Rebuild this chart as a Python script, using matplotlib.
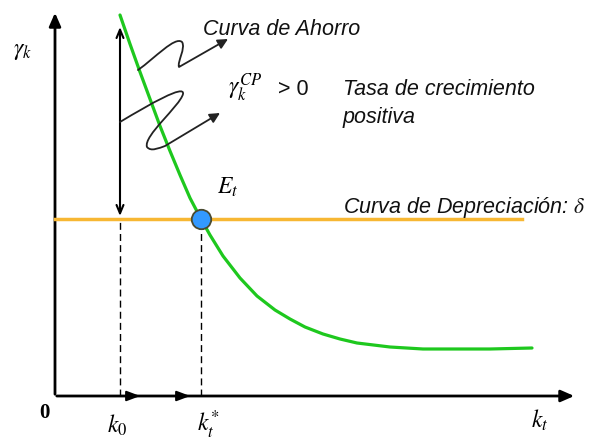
import matplotlib
matplotlib.use("Agg")
import matplotlib.pyplot as plt
from matplotlib.path import Path
from matplotlib.patches import FancyArrowPatch

plt.rcParams['mathtext.fontset'] = 'stix'

# savings curve (capital k, growth gamma) in diagram units
k_saving = [65, 75, 85, 95, 105, 115, 125, 135, 146, 155, 168, 185, 202, 220, 235,
            250, 268, 285, 302, 335, 368, 402, 435, 477]
g_saving = [381, 352, 324, 297, 270, 245, 221, 198, 177, 161, 140, 118, 100, 86, 77,
            69, 62, 57, 53, 49, 47, 47, 47, 48]

# depreciation line
delta = 177
k_delta_end = 467

# key capital levels
k0 = 65
k_star = 146
gamma_k0 = 369   # top of the growth-rate double arrow

# axis extents
x_max = 522
y_max = 386

fig = plt.figure(figsize=(6.03, 4.42), dpi=100)
ax = fig.add_axes([0, 0, 1, 1])
ax.set_xlim(-55, 548)
ax.set_ylim(-46, 396)
ax.axis('off')

# axes with arrows
ax.annotate('', xy=(0, y_max), xytext=(0, -1),
            arrowprops=dict(arrowstyle='-|>,head_length=0.8,head_width=0.35', color='black', lw=2))
ax.annotate('', xy=(x_max, 0), xytext=(-1, 0),
            arrowprops=dict(arrowstyle='-|>,head_length=0.8,head_width=0.35', color='black', lw=2))
# arrows along the k axis (k0 -> k*)
for xa in [88, 138]:
    ax.annotate('', xy=(xa, 0), xytext=(xa - 12, 0),
                arrowprops=dict(arrowstyle='-|>,head_length=0.8,head_width=0.3', color='black', lw=1.5))

# dashed guides
ax.plot([k0, k0], [0, delta], color='black', lw=1, ls=(0, (5, 3)))
ax.plot([k_star, k_star], [0, delta], color='black', lw=1, ls=(0, (5, 3)))

# depreciation line
ax.plot([0, k_delta_end], [delta, delta], color='#f7b733', lw=2.5, zorder=3)

# savings curve
ax.plot(k_saving, g_saving, color='#1ec81e', lw=2.3, zorder=4,
        solid_capstyle='round', solid_joinstyle='round')

# double arrow: growth rate at k0
ax.annotate('', xy=(k0, gamma_k0), xytext=(k0, delta + 3),
            arrowprops=dict(arrowstyle='<->,head_length=0.6,head_width=0.25', color='black', lw=1.5,
                            shrinkA=0, shrinkB=0), zorder=3)

# equilibrium point
ax.plot([k_star], [delta], 'o', ms=14, mfc='#3399ff', mec='#4a4a30', mew=1.3, zorder=6)

# squiggly arrows
upper = Path([(83, 326), (100, 338), (120, 360), (127, 354),
              (131, 348), (122, 334), (124, 329),
              (173, 357)],
             [Path.MOVETO, Path.CURVE4, Path.CURVE4, Path.CURVE4,
              Path.CURVE4, Path.CURVE4, Path.CURVE4,
              Path.LINETO])
lower = Path([(65, 274), (95, 292), (130, 312), (128, 302),
              (125, 290), (88, 260), (92, 249),
              (96, 244), (104, 248), (110, 250),
              (165, 283)],
             [Path.MOVETO, Path.CURVE4, Path.CURVE4, Path.CURVE4,
              Path.CURVE4, Path.CURVE4, Path.CURVE4,
              Path.CURVE4, Path.CURVE4, Path.CURVE4,
              Path.LINETO])
for p in [upper, lower]:
    ax.add_patch(FancyArrowPatch(path=p, arrowstyle='-|>,head_length=6,head_width=3',
                                 color='#222222', lw=1.3, zorder=5))

# labels
txt = dict(family='Liberation Sans', style='italic', fontsize=15.5, color='#111111')
ax.text(148, 361, 'Curva de Ahorro', va='baseline', **txt)
ax.text(288, 301, 'Tasa de crecimiento', va='baseline', **txt)
ax.text(288, 273, 'positiva', va='baseline', **txt)
ax.text(288, 183, 'Curva de Depreciación: $\\delta$', va='baseline', **txt)
ax.text(173, 301, '$\\gamma_k^{CP}$', va='baseline', fontsize=17)
ax.text(223, 301, '> 0', va='baseline', family='Liberation Sans', fontsize=15.5, color='#111111')

ax.text(-42, 346, '$\\gamma_k$', va='center', fontsize=17)
ax.text(162, 209, '$E_t$', va='center', fontsize=17)
ax.text(-11, -17, '0', ha='center', va='center', family='Liberation Serif', weight='bold', fontsize=15)
ax.text(62, -29, '$k_0$', ha='center', va='center', fontsize=17)
ax.text(153, -29, '$k_t^{*}$', ha='center', va='center', fontsize=17)
ax.text(485, -24, '$k_t$', ha='center', va='center', fontsize=17)

fig.savefig('out.png', dpi=100)
